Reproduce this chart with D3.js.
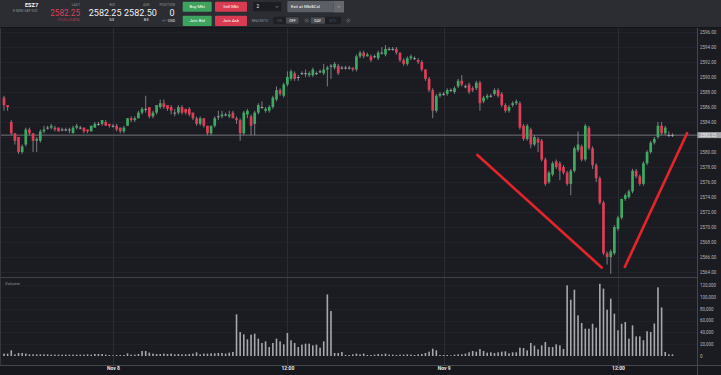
<!DOCTYPE html>
<html><head><meta charset="utf-8">
<script src="https://cdn.jsdelivr.net/npm/d3@7"></script>
<style>
html,body{margin:0;padding:0;background:#1b1c22;overflow:hidden}
svg{display:block;font-family:Roboto,"Open Sans",sans-serif}
</style></head><body>
<svg id="c" width="721" height="375"></svg>
<script>
// ---------- DATA (15-minute ESZ7 bars) ----------
const opens=[2587.25,2586.25,2584.0,2582.5,2582.0,2580.0,2581.0,2583.0,2582.5,2581.5,
2581.5,2582.75,2583.25,2583.25,2583.25,2583.25,2583.0,2583.0,2583.0,2582.5,
2583.25,2583.25,2583.25,2583.0,2582.75,2583.25,2583.75,2583.75,2584.0,2583.75,
2583.5,2583.5,2583.25,2582.75,2583.5,2584.5,2584.25,2584.5,2585.25,2585.75,
2586.0,2584.75,2585.25,2586.0,2586.5,2586.25,2586.0,2585.25,2585.25,2586.0,
2585.75,2585.75,2585.25,2584.5,2583.75,2584.5,2583.5,2582.5,2583.5,2584.75,
2584.75,2585.0,2584.75,2585.25,2584.5,2584.25,2582.5,2585.0,2584.75,2583.75,
2585.25,2586.0,2585.5,2585.5,2586.0,2587.0,2588.25,2587.5,2589.0,2589.75,
2590.5,2590.0,2590.5,2590.5,2590.25,2590.25,2590.5,2590.75,2590.5,2591.0,
2591.5,2591.25,2591.5,2591.25,2591.25,2591.25,2591.25,2591.0,2592.75,2593.25,
2592.75,2592.75,2592.75,2592.5,2593.25,2593.0,2593.75,2593.75,2593.75,2593.25,
2592.25,2591.75,2592.5,2592.5,2592.25,2592.0,2591.0,2589.75,2588.25,2585.5,
2587.5,2587.75,2587.75,2588.25,2588.0,2588.75,2589.5,2588.75,2589.0,2588.5,
2588.5,2589.25,2586.75,2587.25,2587.5,2587.75,2588.25,2587.75,2586.25,2585.5,
2586.25,2586.5,2586.5,2583.5,2581.75,2583.0,2581.0,2581.75,2581.5,2579.0,
2576.0,2577.0,2578.75,2578.5,2578.0,2577.25,2575.75,2577.5,2580.25,2580.75,
2579.0,2583.25,2580.5,2578.25,2576.5,2573.25,2566.5,2566.0,2566.5,2569.75,
2571.25,2573.75,2574.0,2574.75,2577.5,2576.75,2575.75,2578.5,2580.0,2581.25,
2582.0,2583.5,2582.5,2582.25,2582.25];
const highs=[2587.5,2586.25,2584.25,2582.5,2582.0,2581.0,2583.25,2583.25,2582.5,2582.0,
2583.0,2583.5,2583.5,2583.75,2583.5,2583.25,2583.25,2583.25,2583.25,2583.5,
2583.75,2583.5,2583.25,2583.0,2583.5,2584.0,2584.0,2584.25,2584.25,2583.75,
2583.75,2583.75,2583.25,2583.5,2584.5,2584.75,2584.75,2585.5,2586.0,2587.5,
2586.0,2585.5,2586.25,2587.0,2587.0,2586.25,2586.25,2585.75,2586.25,2586.25,
2585.75,2586.0,2585.25,2584.75,2584.75,2584.5,2583.5,2583.5,2584.75,2585.5,
2585.5,2585.25,2585.5,2585.5,2584.75,2584.5,2585.5,2585.75,2585.0,2585.5,
2586.5,2586.75,2586.0,2586.25,2587.5,2588.75,2588.5,2589.25,2590.75,2591.0,
2590.75,2590.25,2590.75,2591.0,2590.75,2591.25,2590.75,2591.0,2591.75,2591.5,
2591.75,2592.0,2591.75,2591.5,2591.5,2591.5,2591.25,2593.0,2593.5,2593.5,
2593.25,2593.0,2593.0,2593.5,2594.0,2594.25,2594.0,2594.0,2594.0,2593.25,
2592.5,2592.75,2593.0,2592.75,2592.5,2592.25,2591.0,2590.0,2588.5,2587.75,
2588.0,2588.0,2588.5,2588.5,2588.75,2589.75,2590.25,2589.0,2589.25,2588.75,
2589.5,2589.5,2587.5,2587.75,2587.75,2588.5,2588.5,2588.0,2586.5,2586.25,
2586.75,2587.0,2586.75,2583.75,2583.75,2583.25,2582.25,2582.0,2581.75,2579.25,
2577.5,2578.75,2579.0,2578.75,2578.25,2577.5,2577.75,2580.75,2582.75,2581.0,
2583.75,2583.5,2580.75,2578.5,2576.75,2573.5,2566.75,2567.0,2570.25,2571.5,
2573.75,2574.5,2575.0,2577.75,2577.75,2577.0,2578.75,2580.25,2581.5,2582.0,
2584.0,2584.0,2583.5,2582.75,2582.5];
const lows=[2585.5,2585.5,2582.25,2581.0,2579.75,2579.75,2580.75,2582.25,2580.0,2580.0,
2581.25,2582.5,2583.0,2583.0,2582.75,2582.75,2582.75,2582.75,2582.5,2582.5,
2583.0,2583.0,2582.5,2582.5,2582.75,2583.25,2583.5,2583.5,2583.5,2583.25,
2583.25,2582.75,2582.5,2582.5,2583.5,2584.0,2584.0,2584.5,2585.0,2585.25,
2584.5,2584.5,2585.0,2585.75,2585.75,2585.5,2585.0,2584.75,2585.0,2585.0,
2585.0,2584.75,2584.25,2583.5,2583.5,2583.25,2582.25,2582.25,2583.25,2584.25,
2584.5,2584.75,2584.5,2584.5,2583.75,2581.5,2582.25,2584.5,2582.25,2582.25,
2585.0,2585.75,2585.25,2585.25,2585.75,2586.75,2587.5,2587.25,2588.75,2589.5,
2589.5,2589.5,2590.25,2590.0,2590.0,2590.0,2590.25,2590.5,2590.25,2588.75,
2589.75,2591.0,2590.25,2591.0,2591.0,2591.0,2590.75,2590.75,2592.5,2592.5,
2592.75,2592.0,2592.5,2592.25,2593.0,2592.75,2593.5,2593.5,2593.0,2592.0,
2591.5,2591.5,2592.25,2592.25,2591.75,2590.75,2589.5,2588.0,2584.5,2585.25,
2587.25,2587.5,2587.5,2588.0,2587.75,2588.5,2588.75,2588.5,2587.75,2588.0,
2588.25,2585.5,2586.5,2587.0,2587.25,2587.5,2587.25,2586.0,2585.25,2585.25,
2586.0,2586.25,2583.0,2581.5,2581.5,2580.5,2580.75,2580.0,2578.75,2575.5,
2575.75,2576.75,2577.75,2576.25,2577.0,2575.5,2574.25,2577.25,2580.0,2578.75,
2578.75,2580.25,2577.75,2576.0,2573.0,2566.25,2565.0,2563.75,2566.25,2569.5,
2571.0,2573.5,2573.75,2574.5,2576.5,2575.5,2575.5,2578.25,2579.75,2581.0,
2581.75,2582.25,2582.25,2582.0,2582.0];
const closes=[2586.25,2586.0,2582.5,2581.5,2580.0,2580.75,2583.0,2582.5,2581.5,2581.75,
2582.75,2583.0,2583.25,2583.5,2583.0,2582.75,2583.0,2583.0,2583.0,2583.25,
2583.5,2583.25,2582.75,2582.75,2583.5,2583.75,2583.75,2584.25,2583.5,2583.5,
2583.5,2583.0,2582.75,2583.25,2584.5,2584.25,2584.5,2585.25,2585.75,2585.75,
2584.75,2585.25,2586.25,2586.5,2586.0,2585.75,2585.5,2585.25,2586.0,2585.25,
2585.25,2585.0,2584.5,2583.75,2584.5,2583.5,2582.5,2583.5,2584.5,2584.75,
2585.0,2585.0,2585.0,2584.5,2584.25,2582.5,2585.25,2585.5,2583.5,2585.25,
2586.25,2586.0,2585.75,2586.0,2587.25,2588.25,2587.75,2589.0,2590.0,2590.75,
2589.75,2590.0,2590.5,2590.5,2590.5,2591.0,2590.5,2590.75,2591.0,2591.25,
2591.5,2591.75,2590.5,2591.25,2591.25,2591.25,2591.0,2592.75,2593.25,2592.75,
2593.0,2592.25,2592.75,2593.25,2593.25,2593.75,2593.75,2593.75,2593.25,2592.25,
2591.75,2592.5,2592.75,2592.5,2592.0,2591.0,2589.75,2588.25,2585.5,2587.5,
2587.75,2587.75,2588.25,2588.25,2588.5,2589.5,2589.0,2588.75,2588.0,2588.25,
2589.25,2586.5,2587.25,2587.5,2587.5,2588.25,2587.5,2586.25,2585.5,2586.0,
2586.5,2586.75,2583.25,2581.75,2583.5,2581.0,2582.0,2581.25,2579.0,2575.75,
2577.25,2578.5,2578.0,2577.5,2577.25,2575.75,2577.5,2580.5,2581.0,2579.0,
2583.5,2580.5,2578.25,2576.5,2573.25,2566.5,2566.0,2566.75,2570.0,2571.25,
2573.75,2574.25,2574.75,2577.5,2576.75,2575.75,2578.5,2580.0,2581.25,2581.75,
2583.5,2582.5,2583.25,2582.25,2582.25];
const volumes=[4000,4000,9600,2800,5100,5100,4000,2800,2800,2800,
2800,2800,2800,2300,2300,2300,2300,2300,2300,2300,
2300,2300,2300,2800,2300,3400,3400,3400,2300,1700,
1100,1700,1700,1700,4500,2300,2300,3400,8500,8500,
5700,4000,3400,3400,4000,3400,4000,2800,3400,2800,
2800,3400,4000,6200,2800,4000,4000,4500,4500,5100,
5100,4000,5700,6800,70400,40500,36600,28200,36000,37700,
29300,22000,24800,15200,22000,29300,24800,19700,38900,26500,
22000,15200,19200,20800,20800,18000,19200,14100,24800,104000,
76000,5100,5100,6800,1700,1700,2800,4000,2800,4000,
1700,1700,2300,3400,2800,4000,2300,2300,1700,2300,
2300,2800,2300,1700,2800,3400,5100,7300,12400,9600,
1700,1700,1700,1100,2300,2800,2800,4000,6200,8500,
7300,11800,8500,5600,6200,5100,6200,7300,7900,4500,
6200,6200,14100,13500,9600,22000,17500,11300,18000,23700,
15200,15200,19700,18000,11800,119400,95200,112000,68700,55800,
46200,46200,54600,47900,122000,113800,78300,96900,71500,43400,
54600,57400,29300,51800,33200,33200,26600,41900,40700,54900,
116000,82000,6800,2800,2800];
const priceTicks=[2564,2566,2568,2570,2572,2574,2576,2578,2580,2582,2584,2586,2588,2590,2592,2594,2596];
const volumeTicks=[0,20000,40000,60000,80000,100000,120000];
const timeTickIndex=[30,78,121,169];
const timeTickLabels=["Nov 8","12:00","Nov 9","12:00"];
const lastPrice=2582.25;
// hand-drawn red annotation strokes, in (bar index, price) units
const annotationA=[[130.3,2579.6],[164.5,2564.6]];
const annotationB=[[170.9,2564.7],[188.0,2582.5]];
// header quote values
const symbolName="ESZ7", symbolDesc="E-MINI S&P 500";
const quoteLast="2582.25", quoteChange="-10.25 (-0.40%)";
const quoteBid="2582.25", bidSize="53", quoteAsk="2582.50", askSize="83", positionQty="0";

// ---------- DRAW ----------
const W=721,H=375;
const svg=d3.select("#c");
const C={bg:"#1b1c22",head:"#2b2d33",up:"#3daa62",down:"#de3f58",wick:"#95969c",vol:"#a7a8ad",axis:"#b4b5ba"};

svg.append("rect").attr("width",W).attr("height",H).attr("fill",C.bg);

const n=closes.length;
const x=d3.scaleLinear().domain([0,n-1]).range([4,672.5]);
const y=d3.scaleLinear().domain([2564,2596]).range([272,32]);
const yv=d3.scaleLinear().domain([0,120000]).range([356,285]);

// grid
const g=svg.append("g");
g.selectAll(".hg").data(priceTicks).join("line").attr("x1",0).attr("x2",697).attr("y1",d=>Math.round(y(d))+0.5).attr("y2",d=>Math.round(y(d))+0.5).attr("stroke","#22232a").attr("stroke-width",1);
g.selectAll(".hv").data(volumeTicks.slice(1)).join("line").attr("x1",0).attr("x2",697).attr("y1",d=>Math.round(yv(d))+0.5).attr("y2",d=>Math.round(yv(d))+0.5).attr("stroke","#212229");
g.selectAll(".vg").data(timeTickIndex).join("line").attr("x1",d=>Math.round(x(d))+0.5).attr("x2",d=>Math.round(x(d))+0.5).attr("y1",27).attr("y2",365).attr("stroke","#2b2c34");

// last price line
svg.append("line").attr("x1",0).attr("x2",697).attr("y1",y(lastPrice)).attr("y2",y(lastPrice)).attr("stroke","#74757b").attr("stroke-width",1);

// candles
const idx=d3.range(n);
svg.append("g").selectAll("line").data(idx).join("line")
 .attr("x1",i=>x(i)).attr("x2",i=>x(i)).attr("y1",i=>y(highs[i])).attr("y2",i=>y(lows[i]))
 .attr("stroke",C.wick).attr("stroke-width",0.8);
svg.append("g").selectAll("rect").data(idx).join("rect")
 .attr("x",i=>x(i)-1.35).attr("width",2.7)
 .attr("y",i=>y(Math.max(opens[i],closes[i])))
 .attr("height",i=>Math.max(0.9,Math.abs(y(opens[i])-y(closes[i]))))
 .attr("fill",i=>closes[i]>opens[i]?C.up:(closes[i]<opens[i]?C.down:"#a9aaaf"));

// volume pane
svg.append("line").attr("x1",0).attr("x2",697).attr("y1",277.5).attr("y2",277.5).attr("stroke","#40424a");
svg.append("text").attr("x",5).attr("y",284.8).attr("font-size",4.4).attr("fill","#8b8c92").text("Volume");
svg.append("g").selectAll("rect").data(idx).join("rect")
 .attr("x",i=>x(i)-0.8).attr("width",1.6)
 .attr("y",i=>yv(volumes[i])).attr("height",i=>yv(0)-yv(volumes[i]))
 .attr("fill",C.vol);

// bottom strip & right axis line
svg.append("rect").attr("x",0).attr("y",365).attr("width",W).attr("height",10).attr("fill","#17181d");
svg.append("line").attr("x1",0).attr("x2",W).attr("y1",365.5).attr("y2",365.5).attr("stroke","#45474e");
svg.append("line").attr("x1",697.5).attr("x2",697.5).attr("y1",27).attr("y2",375).attr("stroke","#45474e");
svg.append("line").attr("x1",0.5).attr("x2",0.5).attr("y1",27).attr("y2",365).attr("stroke","#35363d");

// axes (the tick hidden under the last-price tag is not labelled)
const visiblePriceTicks=priceTicks.filter(d=>Math.abs(y(d)-y(lastPrice))>4.5);
const pa=svg.append("g").attr("transform","translate(698,0)")
 .call(d3.axisRight(y).tickValues(visiblePriceTicks).tickFormat(d=>d.toFixed(2)).tickSize(0).tickPadding(2));
const va=svg.append("g").attr("transform","translate(698,0)")
 .call(d3.axisRight(yv).tickValues(volumeTicks).tickFormat(d3.format(",")).tickSize(0).tickPadding(2));
[pa,va].forEach(a=>{a.select(".domain").remove();a.selectAll("text").attr("font-size",4.5).attr("fill",C.axis).attr("font-family","Roboto,sans-serif");});
const ta=svg.append("g").attr("transform","translate(0,365)")
 .call(d3.axisBottom(x).tickValues(timeTickIndex).tickFormat((d,k)=>timeTickLabels[k]).tickSize(0).tickPadding(1.5));
ta.select(".domain").remove();
ta.selectAll("text").attr("font-size",5).attr("font-weight","bold").attr("fill","#e8e8ea").attr("font-family","Roboto,sans-serif");

// last price tag
svg.append("rect").attr("x",697.5).attr("y",y(lastPrice)-3).attr("width",23.5).attr("height",6).attr("fill","#a4a5a9");
svg.append("text").attr("x",700).attr("y",y(lastPrice)+1.6).attr("font-size",4.5).attr("fill","#f4f4f4").text(lastPrice.toFixed(2));

// annotations
const ln=d3.line().x(d=>x(d[0])).y(d=>y(d[1]));
[annotationA,annotationB].forEach(a=>svg.append("path").attr("d",ln(a)).attr("stroke","#e3242c").attr("stroke-width",2.7).attr("stroke-linecap","round").attr("fill","none"));

// ---------- HEADER ----------
const h=svg.append("g");
h.append("rect").attr("width",W).attr("height",27).attr("fill",C.head);
h.append("rect").attr("y",27).attr("width",W).attr("height",1).attr("fill","#141519");
function t(px,py,s,size,fill,anchor,weight){return h.append("text").attr("x",px).attr("y",py).attr("font-size",size).attr("fill",fill).attr("text-anchor",anchor||"start").attr("font-weight",weight||"normal").text(s);}
t(31.5,6.7,symbolName,5.6,"#f2f2f2","middle","bold");
t(37.5,11.6,symbolDesc,3.5,"#8c8d92","end");
t(80,6,"LAST",3.5,"#8c8d92","end");
t(80,15.6,quoteLast,8.2,"#d7435c","end");
t(80,20.8,quoteChange,3.5,"#c9394f","end");
t(115,6,"BID",3.5,"#8c8d92","end");
t(121.5,15.9,quoteBid,9,"#f2f2f2","end");
t(114,20.6,bidSize,4.2,"#e6e6e6","end");
t(149.5,6,"ASK",3.5,"#8c8d92","end");
t(156.8,15.9,quoteAsk,9,"#f2f2f2","end");
t(148.5,20.6,askSize,4.2,"#e6e6e6","end");
t(175,6,"POSITION",3.5,"#8c8d92","end");
t(174.5,15.9,positionQty,9,"#f2f2f2","end");
const pu=t(175,21.5,"",3.8,"#e6e6e6","end");
pu.append("tspan").attr("fill","#8c8d92").text("+/- ");
pu.append("tspan").text("USD");

function btn(bx,by,bw,bh,fill,label){
 h.append("rect").attr("x",bx).attr("y",by).attr("width",bw).attr("height",bh).attr("rx",1).attr("fill",fill);
 t(bx+bw/2,by+bh/2+1.5,label,4.3,"#ffffff","middle");
}
btn(182.7,1.7,29,10,"#3ea35e","Buy Mkt");
btn(215,1.7,32,10,"#d83b52","Sell Mkt");
btn(182.7,15.7,29,10.3,"#3ea35e","Join Bid");
btn(215,15.7,32,10.3,"#d83b52","Join Ask");

// quantity dropdown
h.append("rect").attr("x",252.7).attr("y",1.7).attr("width",29).attr("height",10).attr("rx",1).attr("fill","#1c1d22").attr("stroke","#383a40").attr("stroke-width",0.5);
t(256.5,8.3,"2",4.6,"#f2f2f2");
h.append("path").attr("d","M275.6,6 L277,7.5 L278.4,6").attr("stroke","#9a9ba0").attr("stroke-width",0.6).attr("fill","none");
// exit button
h.append("rect").attr("x",287.3).attr("y",1).attr("width",56.7).attr("height",11.3).attr("rx",1).attr("fill","#5c5e65");
h.append("rect").attr("x",333.5).attr("y",1).attr("width",10.5).attr("height",11.3).attr("fill","#65676e");
h.append("line").attr("x1",333.5).attr("x2",333.5).attr("y1",2).attr("y2",11.3).attr("stroke","#4a4c52").attr("stroke-width",0.5);
t(291,8.2,"Exit at Mkt&Cxl",4.3,"#ffffff");
h.append("path").attr("d","M337.4,6 L338.8,7.5 L340.2,6").attr("stroke","#b0b1b5").attr("stroke-width",0.6).attr("fill","none");
// brackets / tif toggles
t(251.7,21.9,"BRACKETS",3.3,"#8b8c91");
h.append("rect").attr("x",273.3).attr("y",16.7).attr("width",26).attr("height",7.6).attr("rx",1).attr("fill","#1e1f24");
h.append("rect").attr("x",286).attr("y",17.2).attr("width",12.8).attr("height",6.6).attr("rx",0.8).attr("fill","#4a4c53");
t(279.6,21.9,"ON",3.6,"#55575d","middle");
t(292.4,21.9,"OFF",3.6,"#f0f0f0","middle");
h.append("rect").attr("x",310).attr("y",16.7).attr("width",31).attr("height",7.6).attr("rx",1).attr("fill","#1e1f24");
h.append("rect").attr("x",310.5).attr("y",17.2).attr("width",14.5).attr("height",6.6).attr("rx",0.8).attr("fill","#4a4c53");
t(317.7,21.9,"DAY",3.6,"#f0f0f0","middle");
t(332.8,21.9,"GTC",3.6,"#55575d","middle");
[306.7,348.3].forEach(cx=>{
 h.append("circle").attr("cx",cx).attr("cy",20.5).attr("r",1.7).attr("fill","none").attr("stroke","#7a7b80").attr("stroke-width",0.8).attr("stroke-dasharray","0.9,0.5");
 h.append("circle").attr("cx",cx).attr("cy",20.5).attr("r",0.6).attr("fill","#7a7b80");
});
</script>
</body></html>
